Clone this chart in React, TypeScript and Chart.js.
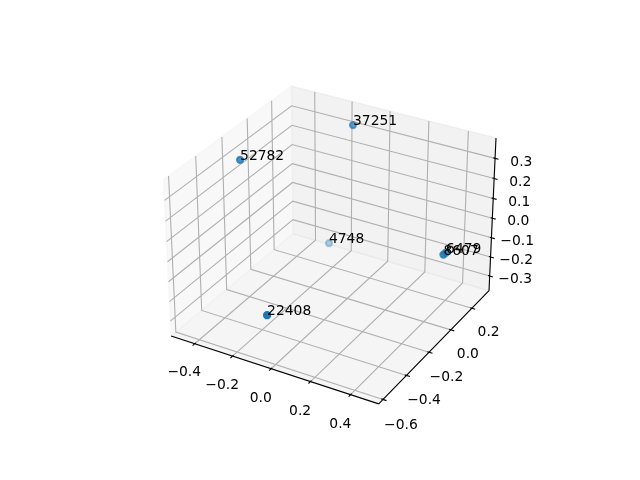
import { useEffect, useRef } from "react";
import { Chart, registerables } from "chart.js";

Chart.register(...registerables);

// ---- data (3D scatter with text labels) ----
const pointLabels = ["52782", "37251", "4748", "8607", "6479", "22408"];
const xValues = [-0.459, -0.127, -0.285, 0.469, 0.47, -0.058];
const yValues = [-0.163, 0.255, 0.304, 0.037, 0.059, -0.572];
const zValues = [0.287, 0.35, -0.328, -0.033, -0.034, -0.162];

// ---- tick values ----
const xTicks = [-0.4, -0.2, 0.0, 0.2, 0.4];
const yTicks = [-0.6, -0.4, -0.2, 0.0, 0.2];
const zTicks = [-0.3, -0.2, -0.1, 0.0, 0.1, 0.2, 0.3];

// ---- view / figure settings (matplotlib defaults) ----
const ELEV = 30;
const AZIM = -60;
const DIST = 10;
const BOX_ASPECT = [4, 4, 3];
const VIEW_LO = -0.95 / DIST;
const VIEW_HI = 0.9 / DIST;
const FONT_PX = (10 * 100) / 72;
const POINT_COLOR = [31, 119, 180];

type P3 = number[];
type XY = { x: number; y: number };

const dot = (a: number[], b: number[]) => a[0] * b[0] + a[1] * b[1] + a[2] * b[2];

function limits(vals: number[]): [number, number] {
  const mn = Math.min(...vals);
  const mx = Math.max(...vals);
  const d = (mx - mn) * 0.05;
  return [mn - d, mx + d];
}

function fmt(t: number): string {
  return t.toFixed(1).replace("-", "\u2212");
}

export default function App() {
  const ref = useRef<HTMLCanvasElement | null>(null);

  useEffect(() => {
    document.body.style.margin = "0";
    const canvas = ref.current;
    if (!canvas) return;

    const lims = [limits(xValues), limits(yValues), limits(zValues)];
    const lo = lims.map((l) => l[0]);
    const hi = lims.map((l) => l[1]);
    const rng = lo.map((l, i) => hi[i] - l);
    const center = lo.map((l, i) => (l + hi[i]) / 2);
    const pLo = lo.map((l, i) => l - rng[i] / 48);
    const pHi = hi.map((h, i) => h + rng[i] / 48);
    const deltas = rng.map((r) => r / 12);

    const an = Math.hypot(BOX_ASPECT[0], BOX_ASPECT[1], BOX_ASPECT[2]);
    const box = BOX_ASPECT.map((a) => (a * 1.8294640721620434) / an);
    const er = (ELEV * Math.PI) / 180;
    const ar = (AZIM * Math.PI) / 180;
    const w = [Math.cos(er) * Math.cos(ar), Math.cos(er) * Math.sin(ar), Math.sin(er)];
    const uRaw = [-w[1], w[0], 0];
    const un = Math.hypot(uRaw[0], uRaw[1], uRaw[2]);
    const u = uRaw.map((c) => c / un);
    const v = [
      w[1] * u[2] - w[2] * u[1],
      w[2] * u[0] - w[0] * u[2],
      w[0] * u[1] - w[1] * u[0],
    ];

    const project = (c: P3) => {
      const p = c.map((val, i) => ((val - lo[i]) / rng[i]) * box[i] - box[i] / 2);
      const U = dot(u, p);
      const V = dot(v, p);
      const W = dot(w, p);
      const den = DIST - W;
      return { x: U / den, y: V / den, depth: -DIST / den };
    };
    const xy = (c: P3): XY => {
      const r = project(c);
      return { x: r.x, y: r.y };
    };
    const GAP: XY = { x: NaN, y: NaN };

    // ---- panes ----
    const paneDefs = [
      { axis: 0, at: pLo[0], color: "rgba(242,242,242,0.5)" },
      { axis: 1, at: pHi[1], color: "rgba(230,230,230,0.5)" },
      { axis: 2, at: pLo[2], color: "rgba(236,236,236,0.5)" },
    ];
    const paneDatasets = paneDefs.map((pd, k) => {
      const j = (pd.axis + 1) % 3;
      const m = (pd.axis + 2) % 3;
      const corners: [number, number][] = [
        [pLo[j], pLo[m]],
        [pHi[j], pLo[m]],
        [pHi[j], pHi[m]],
        [pLo[j], pHi[m]],
        [pLo[j], pLo[m]],
      ];
      const data = corners.map(([a, b]) => {
        const c = [0, 0, 0];
        c[pd.axis] = pd.at;
        c[j] = a;
        c[m] = b;
        return xy(c);
      });
      return {
        data,
        borderColor: pd.color,
        backgroundColor: pd.color,
        borderWidth: 1.39,
        fill: "shape",
        pointRadius: 0,
        tension: 0,
        clip: false,
        order: 10 + k,
      };
    });

    // ---- grid lines ----
    const tickSets = [xTicks, yTicks, zTicks];
    const minmax = [pLo[0], pHi[1], pLo[2]];
    const maxmin = [pHi[0], pLo[1], pHi[2]];
    const gridData: XY[] = [];
    tickSets.forEach((ticks, i) => {
      const j0 = (i + 1) % 3;
      const j2 = (i + 2) % 3;
      ticks.forEach((t) => {
        const base = minmax.slice();
        base[i] = t;
        const p0 = base.slice();
        p0[j0] = maxmin[j0];
        const p2 = base.slice();
        p2[j2] = maxmin[j2];
        gridData.push(xy(p0), xy(base), xy(p2), GAP);
      });
    });

    // ---- axis lines, tick marks, tick labels ----
    const deltasPerPoint = 48 / (72 * ((369.6 / 100) * 2));
    const labelDeltas = deltas.map((d) => (3.5 + 8) * deltasPerPoint * d);
    const axisDefs = [
      { i: 0, edge: [NaN, pLo[1], pLo[2]], tickdir: 1, out: -1 },
      { i: 1, edge: [pHi[0], NaN, pLo[2]], tickdir: 0, out: 1 },
      { i: 2, edge: [pHi[0], pHi[1], NaN], tickdir: 0, out: 1 },
    ];
    const axisData: XY[] = [];
    const tickTexts: { text: string; x: number; y: number }[] = [];
    axisDefs.forEach((ad) => {
      const a0 = ad.edge.slice();
      a0[ad.i] = pLo[ad.i];
      const a1 = ad.edge.slice();
      a1[ad.i] = pHi[ad.i];
      axisData.push(xy(a0), xy(a1), GAP);
      const td = ad.tickdir;
      tickSets[ad.i].forEach((t) => {
        const pos = ad.edge.slice();
        pos[ad.i] = t;
        const t1 = pos.slice();
        t1[td] = pos[td] + ad.out * 0.2 * deltas[td];
        const t2 = pos.slice();
        t2[td] = pos[td] - ad.out * 0.1 * deltas[td];
        axisData.push(xy(t1), xy(t2), GAP);
        const lp = pos.slice();
        for (let j = 0; j < 3; j++) {
          if (j === ad.i) continue;
          lp[j] = lp[j] + labelDeltas[j] * Math.sign(lp[j] - center[j]);
        }
        const q = xy(lp);
        tickTexts.push({ text: fmt(t), x: q.x, y: q.y });
      });
    });

    // ---- scatter points with depth shading ----
    const proj = xValues.map((x, k) => ({
      ...project([x, yValues[k], zValues[k]]),
      label: pointLabels[k],
    }));
    const dMin = Math.min(...proj.map((p) => p.depth));
    const dMax = Math.max(...proj.map((p) => p.depth));
    const shaded = proj.map((p) => {
      const n = dMax > dMin ? (p.depth - dMin) / (dMax - dMin) : 0;
      const alpha = 1 - n * 0.7;
      return { ...p, color: `rgba(${POINT_COLOR[0]},${POINT_COLOR[1]},${POINT_COLOR[2]},${alpha.toFixed(3)})` };
    });
    const drawOrder = shaded.slice().sort((a, b) => b.depth - a.depth);
    const pointTexts = proj.map((p) => ({ text: p.label, x: p.x, y: p.y }));

    const textPlugin = {
      id: "texts3d",
      afterDatasetsDraw(chart: any) {
        const ctx: CanvasRenderingContext2D = chart.ctx;
        const sx = chart.scales.x;
        const sy = chart.scales.y;
        ctx.save();
        ctx.fillStyle = "#000000";
        ctx.font = `${FONT_PX}px "DejaVu Sans"`;
        ctx.textAlign = "center";
        ctx.textBaseline = "alphabetic";
        tickTexts.forEach((t) => {
          ctx.fillText(t.text, sx.getPixelForValue(t.x), sy.getPixelForValue(t.y) + FONT_PX * 0.76);
        });
        ctx.textAlign = "left";
        pointTexts.forEach((t) => {
          ctx.fillText(t.text, sx.getPixelForValue(t.x), sy.getPixelForValue(t.y));
        });
        ctx.restore();
      },
    };

    const chart = new Chart(canvas, {
      type: "line",
      data: {
        datasets: [
          {
            data: drawOrder.map((p) => ({ x: p.x, y: p.y })),
            showLine: false,
            pointRadius: 3.106,
            pointBorderWidth: 2.083,
            pointBackgroundColor: drawOrder.map((p) => p.color),
            pointBorderColor: drawOrder.map((p) => p.color),
            clip: false,
            order: 0,
          } as any,
          {
            data: axisData,
            borderColor: "#000000",
            borderWidth: 1.11,
            pointRadius: 0,
            fill: false,
            tension: 0,
            spanGaps: false,
            clip: false,
            order: 1,
          } as any,
          {
            data: gridData,
            borderColor: "#b0b0b0",
            borderWidth: 1.11,
            pointRadius: 0,
            fill: false,
            tension: 0,
            spanGaps: false,
            clip: false,
            order: 2,
          } as any,
          ...(paneDatasets as any[]),
        ],
      },
      options: {
        responsive: false,
        animation: false,
        events: [],
        layout: { padding: { left: 143.2, top: 57.6, right: 127.2, bottom: 52.8 } },
        scales: {
          x: { type: "linear", min: VIEW_LO, max: VIEW_HI, display: false },
          y: { type: "linear", min: VIEW_LO, max: VIEW_HI, display: false },
        },
        plugins: {
          legend: { display: false },
          tooltip: { enabled: false },
        },
      },
      plugins: [textPlugin],
    });

    return () => chart.destroy();
  }, []);

  return (
    <div style={{ width: 640, height: 480 }}>
      <canvas ref={ref} width={640} height={480} style={{ display: "block" }} />
    </div>
  );
}
